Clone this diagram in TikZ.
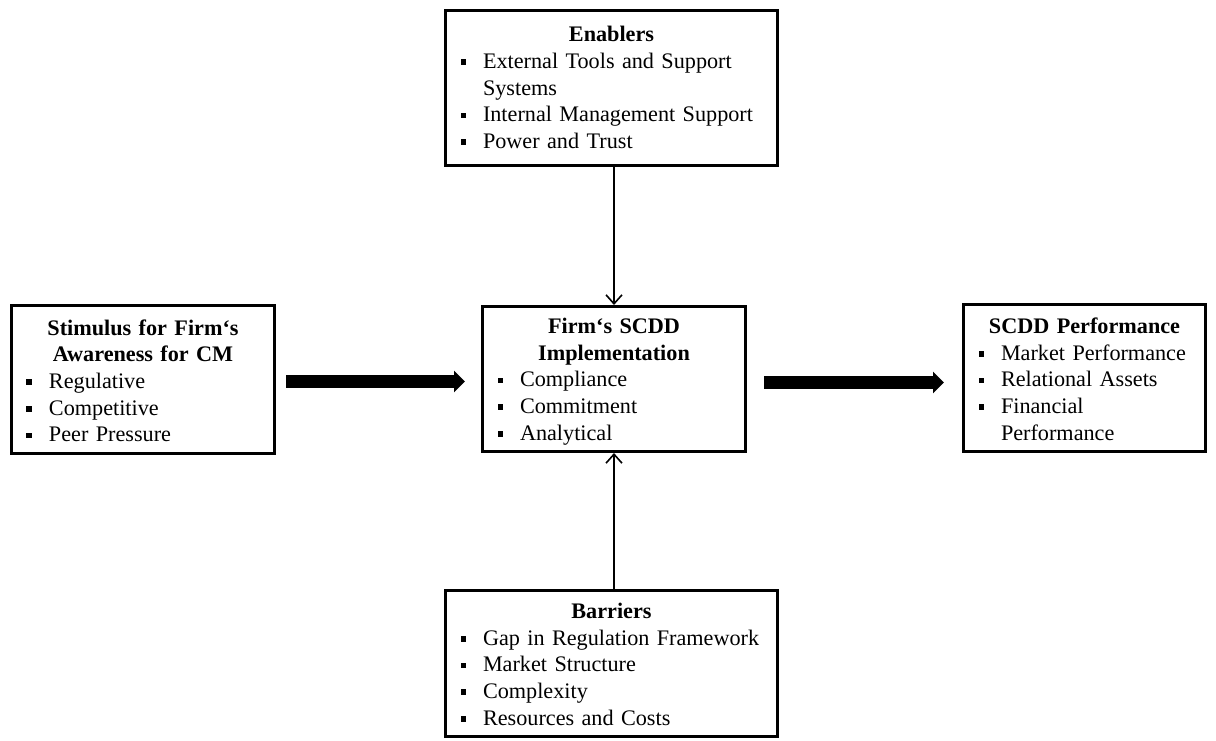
\documentclass[tikz,border=0pt]{standalone}
\usepackage{fontspec}
\setmainfont{Liberation Serif}
\usetikzlibrary{arrows.meta}
\newcommand{\bitem}[1]{\makebox[\hsize][l]{\makebox[22.5pt][l]{\raisebox{3.4pt}{\rule{5.8pt}{5.8pt}}}#1}}
\newcommand{\bcont}[1]{\makebox[\hsize][l]{\hspace*{22.5pt}#1}}
\tikzset{
  box/.style={draw, line width=3pt, inner xsep=15pt, inner ysep=0pt, align=center,
    anchor=north west, font=\fontsize{22.2pt}{26.7pt}\selectfont},
  thinarrow/.style={line width=1.6pt, -{Straight Barb[length=9pt,width=16pt,line width=1.6pt]}},
  bigarrow/.style={line width=13pt, -{Triangle[length=11pt,width=21pt]}}
}
\begin{document}
\begin{tikzpicture}[x=1pt,y=-1pt]
\useasboundingbox (0,0) rectangle (1216,740);
% boxes: placed by outer top-left corner
\node[box, minimum width=332pt, text width=302pt, text height=31.2pt, text depth=123.3pt] (enab) at (444,9)
  {\textbf{Enablers}\\
   \bitem{External Tools and Support}\\
   \bcont{Systems}\\
   \bitem{Internal Management Support}\\
   \bitem{Power and Trust}};
\node[box, minimum width=263pt, text width=233pt, text height=29.5pt, text depth=118.5pt] (stim) at (10,304)
  {\textbf{Stimulus for Firm‘s}\\
   \textbf{Awareness for CM}\\
   \bitem{Regulative}\\
   \bitem{Competitive}\\
   \bitem{Peer Pressure}};
\node[box, minimum width=263pt, text width=233pt, text height=26.8pt, text depth=118.2pt] (impl) at (481,305)
  {\textbf{Firm‘s SCDD}\\
   \textbf{Implementation}\\
   \bitem{Compliance}\\
   \bitem{Commitment}\\
   \bitem{Analytical}};
\node[box, minimum width=242pt, text width=212pt, text height=28.5pt, text depth=118.5pt] (perf) at (962,303.3)
  {\textbf{SCDD Performance}\\
   \bitem{Market Performance}\\
   \bitem{Relational Assets}\\
   \bitem{Financial}\\
   \bcont{Performance}};
\node[box, minimum width=332pt, text width=302pt, text height=27.5pt, text depth=118.5pt] (barr) at (444,589.3)
  {\textbf{Barriers}\\
   \bitem{Gap in Regulation Framework}\\
   \bitem{Market Structure}\\
   \bitem{Complexity}\\
   \bitem{Resources and Costs}};
% connectors
\draw[thinarrow] (enab.south -| impl.north) -- (impl.north);
\draw[thinarrow] (barr.north -| impl.south) -- (impl.south);
\draw[bigarrow, shorten <=10pt, shorten >=16pt] ([yshift=-2pt]stim.east) -- ([yshift=-2pt]stim.east -| impl.west);
\draw[bigarrow, shorten <=17pt, shorten >=18pt] ([yshift=-3.5pt]impl.east) -- ([yshift=-3.5pt]impl.east -| perf.west);
\end{tikzpicture}
\end{document}
